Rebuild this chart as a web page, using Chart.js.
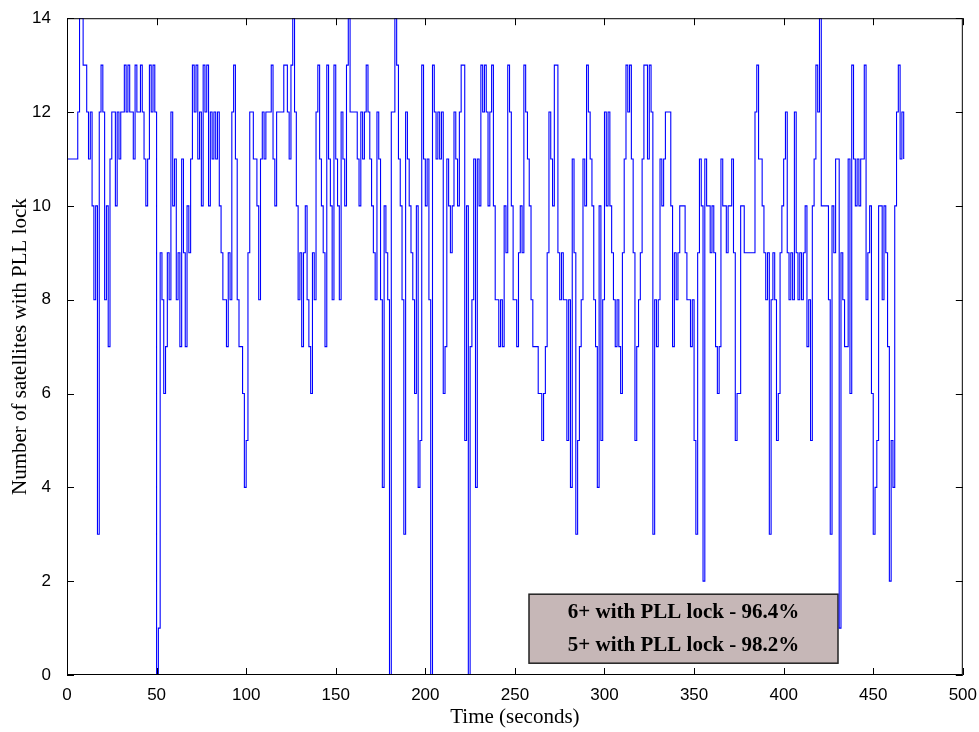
<!DOCTYPE html>
<html>
<head>
<meta charset="utf-8">
<script src="https://cdn.jsdelivr.net/npm/chart.js@4"></script>
<style>
  html, body { margin: 0; padding: 0; background: #fff; }
  #wrap { width: 979px; height: 732px; position: relative; }
</style>
</head>
<body>
<div id="wrap"><canvas id="lock-chart"></canvas></div>
<script>
// satellites with PLL lock, one reading per second (t = 0..467)
var sats = [
  11, 11, 11, 11, 11, 11, 12, 14, 14, 13,
  13, 12, 11, 12, 10, 8, 10, 3, 12, 13,
  12, 8, 10, 7, 11, 12, 12, 10, 12, 11,
  12, 12, 13, 12, 13, 12, 12, 11, 13, 12,
  12, 13, 12, 11, 10, 11, 13, 12, 13, 12,
  0, 1, 9, 8, 6, 7, 9, 8, 12, 10,
  11, 8, 9, 7, 11, 9, 7, 10, 9, 11,
  13, 12, 13, 11, 12, 10, 13, 12, 13, 10,
  12, 11, 12, 11, 12, 10, 9, 8, 8, 7,
  9, 8, 12, 13, 11, 8, 7, 7, 6, 4,
  5, 9, 12, 12, 11, 11, 10, 8, 11, 12,
  11, 12, 12, 12, 13, 11, 10, 12, 12, 12,
  12, 13, 13, 12, 11, 13, 14, 12, 10, 8,
  9, 7, 9, 10, 8, 7, 6, 9, 8, 12,
  13, 11, 10, 9, 7, 13, 11, 10, 8, 13,
  11, 10, 8, 12, 11, 10, 13, 14, 12, 12,
  12, 12, 11, 10, 12, 11, 12, 13, 12, 11,
  10, 9, 8, 12, 11, 8, 4, 10, 9, 8,
  0, 12, 12, 14, 13, 11, 10, 8, 3, 12,
  11, 10, 9, 8, 6, 10, 4, 5, 13, 11,
  10, 11, 8, 0, 13, 12, 11, 12, 11, 12,
  6, 7, 11, 10, 9, 10, 12, 11, 10, 12,
  13, 13, 5, 10, 0, 7, 8, 11, 4, 11,
  10, 13, 12, 13, 12, 10, 12, 13, 10, 8,
  8, 7, 8, 7, 10, 9, 13, 12, 10, 8,
  8, 7, 9, 10, 9, 13, 12, 11, 10, 8,
  7, 7, 7, 6, 6, 5, 6, 7, 9, 12,
  11, 10, 13, 13, 9, 8, 9, 8, 8, 5,
  8, 4, 11, 9, 3, 5, 7, 8, 11, 10,
  13, 12, 11, 10, 8, 7, 4, 10, 5, 8,
  12, 10, 12, 10, 9, 8, 7, 8, 7, 6,
  9, 11, 13, 12, 13, 11, 9, 5, 7, 8,
  9, 11, 13, 13, 11, 13, 12, 3, 8, 7,
  8, 11, 10, 11, 12, 12, 12, 10, 7, 9,
  8, 9, 10, 10, 10, 9, 8, 8, 7, 8,
  5, 3, 9, 11, 10, 2, 11, 10, 10, 9,
  10, 9, 7, 6, 7, 11, 10, 10, 9, 10,
  10, 11, 9, 5, 6, 6, 10, 10, 9, 9,
  9, 9, 9, 9, 12, 13, 11, 11, 10, 9,
  8, 9, 3, 8, 9, 8, 5, 6, 9, 10,
  11, 12, 9, 8, 9, 8, 12, 9, 8, 9,
  8, 9, 10, 7, 8, 5, 10, 11, 13, 12,
  14, 10, 10, 10, 10, 8, 3, 10, 9, 11,
  11, 1, 9, 8, 7, 7, 11, 6, 13, 11,
  10, 11, 10, 11, 11, 13, 8, 9, 10, 6,
  3, 4, 5, 10, 10, 8, 10, 9, 7, 2,
  5, 4, 10, 12, 13, 11, 12, 11
];
var xTicks = [0, 50, 100, 150, 200, 250, 300, 350, 400, 450, 500];
var yTicks = [0, 2, 4, 6, 8, 10, 12, 14];
var statLines = ["6+ with PLL lock - 96.4%", "5+ with PLL lock - 98.2%"];

var points = sats.map(function (v, i) { return { x: i, y: v }; });

// matlab style frame with inward ticks + the stats box
var frame = {
  id: 'frame',
  beforeDatasetsDraw: function (chart) {
    // stats box sits under the trace
    var c = chart.ctx, a = chart.chartArea;
    var bx = a.left + 462, by = a.top + 576, bw = 309, bh = 69;
    c.save();
    c.fillStyle = '#c6b7b7';
    c.fillRect(bx, by, bw, bh);
    c.strokeStyle = '#222';
    c.lineWidth = 1.5;
    c.strokeRect(bx, by, bw, bh);
    c.fillStyle = '#000';
    c.font = 'bold 21px "Liberation Serif", "Times New Roman", serif';
    c.textAlign = 'center';
    c.textBaseline = 'middle';
    c.fillText(statLines[0], bx + bw / 2, by + 18);
    c.fillText(statLines[1], bx + bw / 2, by + 51);
    c.restore();
  },
  afterDraw: function (chart) {
    var c = chart.ctx, a = chart.chartArea;
    var xs = chart.scales.x, ys = chart.scales.y;
    c.save();
    c.strokeStyle = '#000';
    c.lineWidth = 1;
    c.strokeRect(a.left + 0.5, a.top + 0.5, a.right - a.left - 1, a.bottom - a.top - 1);
    c.beginPath();
    xTicks.forEach(function (t) {
      var px = Math.round(xs.getPixelForValue(t)) + 0.5;
      c.moveTo(px, a.bottom); c.lineTo(px, a.bottom - 7);
      c.moveTo(px, a.top); c.lineTo(px, a.top + 7);
    });
    yTicks.forEach(function (t) {
      var py = Math.round(ys.getPixelForValue(t)) + 0.5;
      c.moveTo(a.left, py); c.lineTo(a.left + 7, py);
      c.moveTo(a.right, py); c.lineTo(a.right - 7, py);
    });
    c.stroke();
    c.restore();
  }
};

var tickFont = { family: '"Liberation Sans Narrow", "Arial Narrow", sans-serif', size: 17 };
var titleFont = { family: '"Liberation Serif", "Times New Roman", serif', size: 21 };

new Chart(document.getElementById('lock-chart'), {
  type: 'line',
  data: {
    datasets: [{
      data: points,
      borderColor: '#0000ff',
      borderWidth: 1.1,
      pointRadius: 0,
      stepped: true,
      fill: false
    }]
  },
  options: {
    responsive: true,
    maintainAspectRatio: false,
    animation: false,
    layout: { padding: { top: 17, right: 1, left: 0, bottom: 0 } },
    plugins: { legend: { display: false }, tooltip: { enabled: false } },
    scales: {
      x: {
        type: 'linear',
        min: 0, max: 500,
        grid: { display: false },
        border: { display: false },
        ticks: { stepSize: 50, color: '#000', font: tickFont, padding: 2, maxRotation: 0 },
        title: { display: true, text: 'Time (seconds)', color: '#000', font: titleFont, padding: { top: 0, bottom: 2 } },
        afterFit: function (s) { s.height = 57; }
      },
      y: {
        min: 0, max: 14,
        grid: { display: false },
        border: { display: false },
        ticks: { stepSize: 2, color: '#000', font: tickFont, padding: 8 },
        title: { display: true, text: 'Number of satellites with PLL lock', color: '#000', font: titleFont, padding: { top: 8, bottom: 0 } },
        afterFit: function (s) { s.width = 67; }
      }
    }
  },
  plugins: [frame]
});
</script>
</body>
</html>
